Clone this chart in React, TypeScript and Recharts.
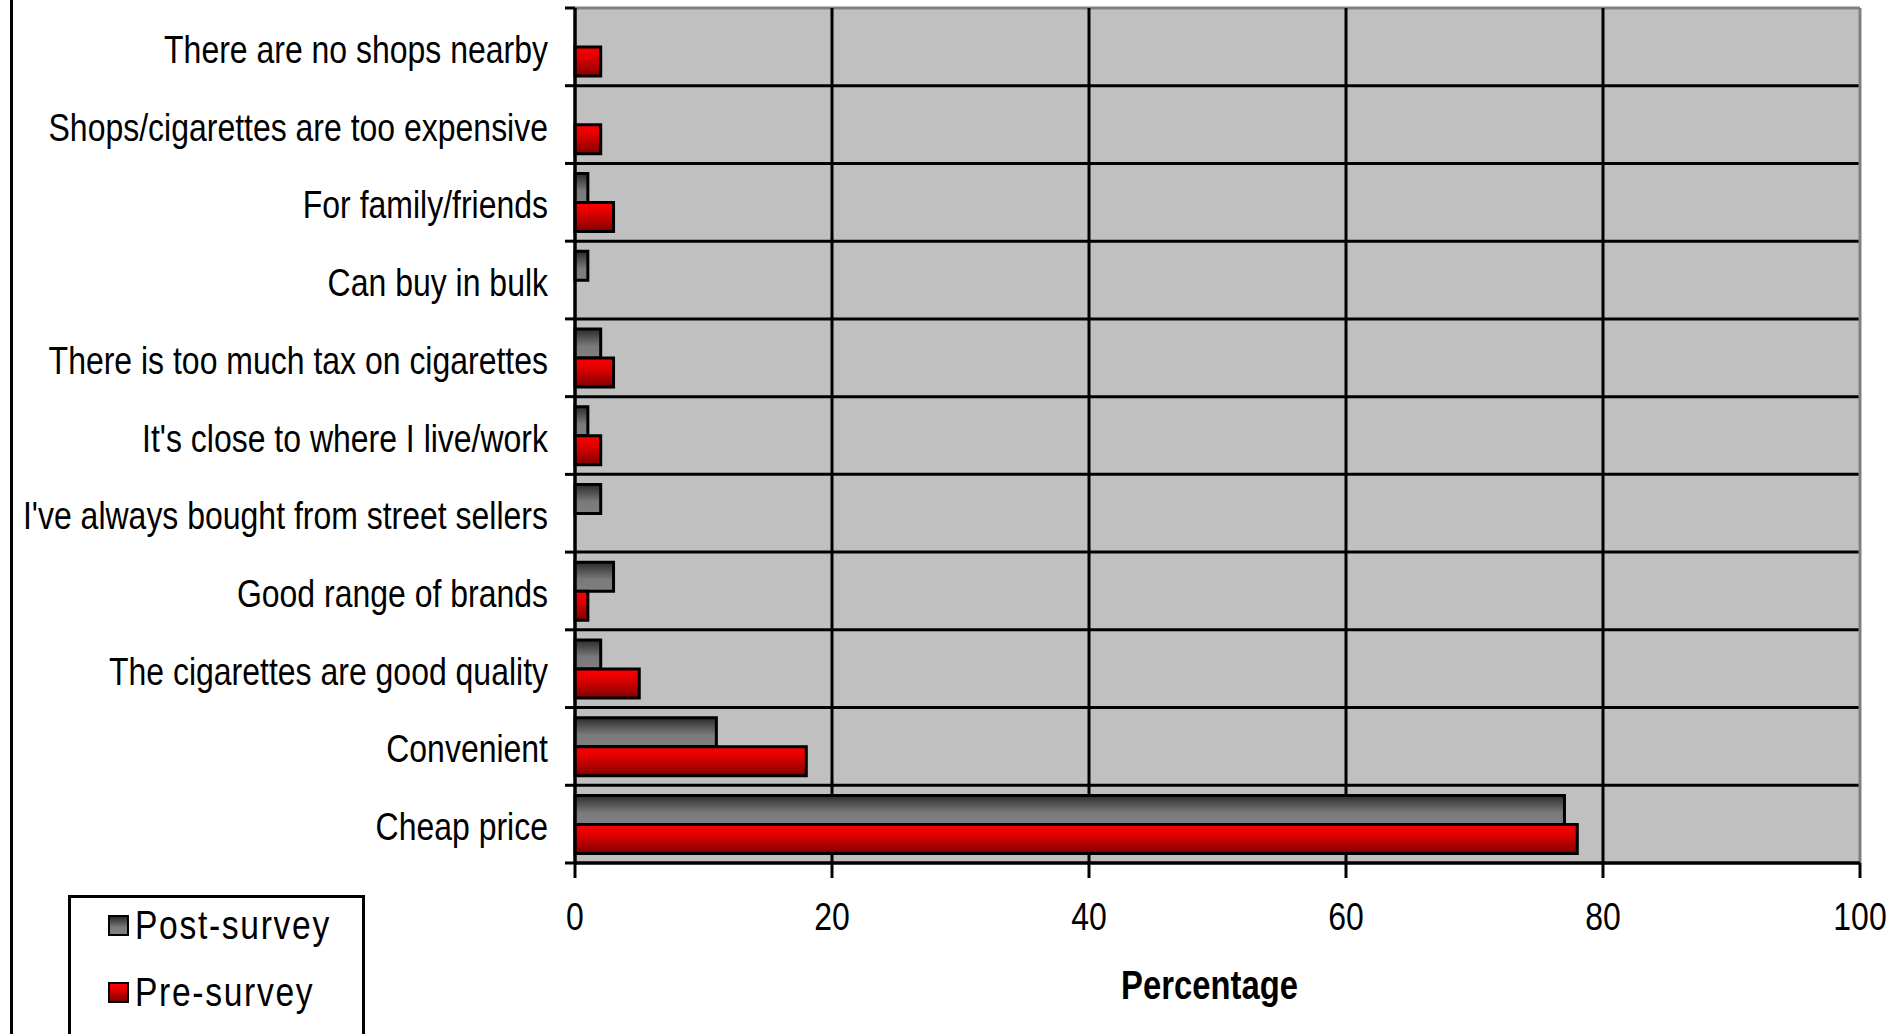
import { BarChart, Bar, XAxis, YAxis, CartesianGrid, Label } from 'recharts'

const reasons = [
  'There are no shops nearby',
  'Shops/cigarettes are too expensive',
  'For family/friends',
  'Can buy in bulk',
  'There is too much tax on cigarettes',
  "It's close to where I live/work",
  "I've always bought from street sellers",
  'Good range of brands',
  'The cigarettes are good quality',
  'Convenient',
  'Cheap price',
]
const postSurvey = [0, 0, 1, 1, 2, 1, 2, 3, 2, 11, 77]
const preSurvey = [2, 2, 3, 0, 3, 2, 0, 1, 5, 18, 78]
const xTicks = [0, 20, 40, 60, 80, 100]
const seriesNames = ['Post-survey', 'Pre-survey']

const FONT = '"Liberation Sans", Arial, sans-serif'
const SQUEEZE = 0.82

const data = reasons.map((r, i) => ({
  reason: r,
  post: postSurvey[i],
  pre: preSurvey[i],
}))

const swatch = [
  'linear-gradient(#2b2b2b, #7a7a7a 60%, #808080)',
  'linear-gradient(#ff0000, #e00000 35%, #800000)',
]

// narrow text: the original uses a tall, condensed bitmap font
const YTick = ({ x, y, payload }: any) => (
  <text
    transform={`translate(${x},${y}) scale(${SQUEEZE},1)`}
    textAnchor="end"
    dy={16}
    fontSize={39}
    fontFamily={FONT}
    fill="#000"
  >
    {payload.value}
  </text>
)

const XTick = ({ x, y, payload }: any) => (
  <text
    transform={`translate(${x},${y}) scale(${SQUEEZE},1)`}
    textAnchor="middle"
    dy="0.71em"
    fontSize={39}
    fontFamily={FONT}
    fill="#000"
  >
    {payload.value}
  </text>
)

const AxisTitle = ({ viewBox }: any) => (
  <text
    transform={`translate(${viewBox.x + viewBox.width / 2 - 8},${viewBox.y + 122}) scale(${SQUEEZE},1)`}
    textAnchor="middle"
    dy="0.36em"
    fontSize={40}
    fontWeight="bold"
    fontFamily={FONT}
    fill="#000"
  >
    Percentage
  </text>
)

export default function App() {
  const n = reasons.length
  return (
    <div style={{ position: 'absolute', left: 0, top: 0, width: 1900, height: 1034, background: '#fff', overflow: 'hidden', fontFamily: FONT }}>
      <BarChart
        width={1900}
        height={1034}
        data={data}
        layout="vertical"
        margin={{ top: 8, right: 40, left: 0, bottom: 0 }}
        barCategoryGap="13%"
        barGap={0}
      >
        <defs>
          <linearGradient id="gPost" x1="0" y1="0" x2="0" y2="1">
            <stop offset="0%" stopColor="#2b2b2b" />
            <stop offset="60%" stopColor="#7a7a7a" />
            <stop offset="100%" stopColor="#808080" />
          </linearGradient>
          <linearGradient id="gPre" x1="0" y1="0" x2="0" y2="1">
            <stop offset="0%" stopColor="#ff0000" />
            <stop offset="35%" stopColor="#e00000" />
            <stop offset="100%" stopColor="#800000" />
          </linearGradient>
        </defs>
        <CartesianGrid
          fill="#c0c0c0"
          fillOpacity={1}
          horizontalCoordinatesGenerator={({ offset }: any) =>
            Array.from({ length: n + 1 }, (_, i) => offset.top + (i * offset.height) / n)
          }
          horizontal={(p: any) => (
            <g key={`h-${p.index}`}>
              <line x1={p.x1 - 10} x2={p.x1} y1={p.y1} y2={p.y2} stroke="#000" strokeWidth={3} />
              <line x1={p.x1} x2={p.x2} y1={p.y1} y2={p.y2} stroke={p.index === 0 ? '#808080' : '#000'} strokeWidth={3} />
            </g>
          )}
          vertical={(p: any) => (
            <line
              key={`v-${p.index}`}
              x1={p.x1}
              x2={p.x2}
              y1={p.y1}
              y2={p.y2}
              stroke={p.index === xTicks.length - 1 ? '#808080' : '#000'}
              strokeWidth={3}
            />
          )}
        />
        <XAxis
          type="number"
          domain={[0, 100]}
          ticks={xTicks}
          height={171}
          tickSize={15}
          tickMargin={24}
          axisLine={{ stroke: '#000', strokeWidth: 3 }}
          tickLine={{ stroke: '#000', strokeWidth: 3 }}
          tick={<XTick />}
        >
          <Label content={<AxisTitle />} />
        </XAxis>
        <YAxis
          type="category"
          dataKey="reason"
          width={575}
          interval={0}
          tickLine={false}
          tickSize={0}
          tickMargin={27}
          axisLine={{ stroke: '#000', strokeWidth: 3 }}
          tick={<YTick />}
        />
        <Bar dataKey="post" name={seriesNames[0]} fill="url(#gPost)" stroke="#000" strokeWidth={3} isAnimationActive={false} />
        <Bar dataKey="pre" name={seriesNames[1]} fill="url(#gPre)" stroke="#000" strokeWidth={3} isAnimationActive={false} />
      </BarChart>
      <div style={{ position: 'absolute', left: 10, top: 0, width: 3, height: 1034, background: '#000' }} />
      <div
        style={{
          position: 'absolute',
          left: 68,
          top: 895,
          width: 291,
          height: 160,
          border: '3px solid #000',
          background: '#fff',
        }}
      >
        {seriesNames.map((s, i) => (
          <div key={s} style={{ position: 'absolute', left: 37, top: 7 + i * 67, display: 'flex', alignItems: 'center', height: 40, whiteSpace: 'nowrap' }}>
            <div style={{ width: 17, height: 17, border: '2px solid #000', background: swatch[i], marginRight: 6 }} />
            <span style={{ fontSize: 40, color: '#000', letterSpacing: 2, display: 'inline-block', transform: 'scaleX(0.84)', transformOrigin: 'left center' }}>{s}</span>
          </div>
        ))}
      </div>
    </div>
  )
}
